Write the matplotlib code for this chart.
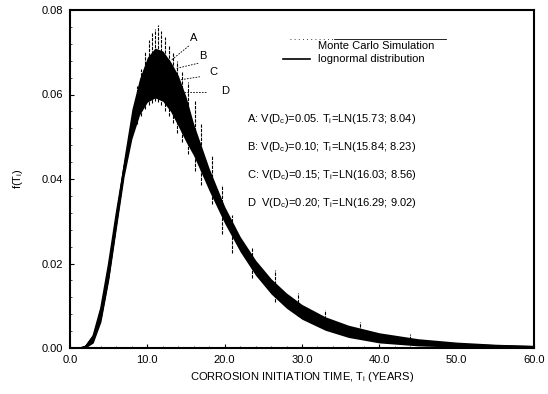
import matplotlib
matplotlib.use("Agg")
import matplotlib.pyplot as plt
from matplotlib.ticker import MultipleLocator, FormatStrFormatter

plt.rcParams['font.family'] = ['Liberation Sans', 'DejaVu Sans']
plt.rcParams['mathtext.fontset'] = 'custom'
plt.rcParams['mathtext.rm'] = 'Liberation Sans'
plt.rcParams['mathtext.it'] = 'Liberation Sans'

# ---- data ----
t_years = [1.5, 2, 3, 4, 5, 6, 7, 8, 9, 10, 11, 12, 13, 14, 15, 16, 18, 20,
           22, 24, 26, 28, 30, 33, 36, 40, 45, 50, 55, 60]

# lognormal fitted curves (A..D)
pdf_A = [0.00002, 0.00012, 0.0017, 0.0070, 0.0168, 0.0294, 0.0420, 0.0527, 0.0604, 0.0649,
         0.0664, 0.0656, 0.0629, 0.0592, 0.0547, 0.0498, 0.0402, 0.0315, 0.0242, 0.0185,
         0.0140, 0.0105, 0.0079, 0.0051, 0.0034, 0.0019, 0.0010, 0.0005, 0.0003, 0.0001]
pdf_B = [0.00003, 0.00015, 0.0019, 0.0075, 0.0174, 0.0299, 0.0422, 0.0525, 0.0598, 0.0641,
         0.0655, 0.0646, 0.0620, 0.0584, 0.0540, 0.0493, 0.0399, 0.0314, 0.0243, 0.0187,
         0.0142, 0.0107, 0.0081, 0.0053, 0.0036, 0.0020, 0.0011, 0.0006, 0.0003, 0.0002]
pdf_C = [0.00005, 0.0002, 0.0023, 0.0083, 0.0184, 0.0307, 0.0424, 0.0521, 0.0589, 0.0628,
         0.0640, 0.0630, 0.0605, 0.0570, 0.0528, 0.0483, 0.0394, 0.0313, 0.0245, 0.0190,
         0.0146, 0.0112, 0.0086, 0.0058, 0.0039, 0.0023, 0.0012, 0.0007, 0.0004, 0.0002]
pdf_D = [0.00008, 0.00029, 0.0028, 0.0094, 0.0198, 0.0318, 0.0428, 0.0516, 0.0577, 0.0610,
         0.0619, 0.0608, 0.0584, 0.0551, 0.0512, 0.0470, 0.0387, 0.0311, 0.0247, 0.0194,
         0.0151, 0.0118, 0.0091, 0.0063, 0.0043, 0.0026, 0.0015, 0.0008, 0.0005, 0.0003]

# Monte Carlo simulation scatter band (lower / upper envelope)
mc_low = [0.0, 0.0, 0.0012, 0.0062, 0.0160, 0.0284, 0.0406, 0.0495, 0.0552, 0.0582,
          0.0592, 0.0584, 0.0560, 0.0525, 0.0488, 0.0455, 0.0372, 0.0295, 0.0228, 0.0172,
          0.0128, 0.0094, 0.0068, 0.0042, 0.0025, 0.0012, 0.0005, 0.0002, 0.0, 0.0]
mc_high = [0.0003, 0.0008, 0.0034, 0.0102, 0.0206, 0.0328, 0.0452, 0.0565, 0.0638, 0.0688,
           0.0710, 0.0703, 0.0678, 0.0645, 0.0595, 0.0530, 0.0425, 0.0335, 0.0264, 0.0208,
           0.0164, 0.0130, 0.0103, 0.0074, 0.0054, 0.0036, 0.0022, 0.0014, 0.0009, 0.0006]

# individual Monte Carlo spikes
spike_t = [8.6, 9.2, 9.7, 10.2, 10.6, 11.0, 11.4, 11.8, 12.3, 12.8, 13.3, 13.9, 14.5,
           15.2, 16.1, 17.0, 18.3, 19.6, 21.0, 23.5, 26.5, 29.5, 33.0, 37.5, 44.0]
spike_top = [0.062, 0.066, 0.070, 0.073, 0.0745, 0.0755, 0.0765, 0.0750, 0.0735, 0.0715,
             0.0700, 0.0680, 0.0655, 0.0630, 0.0585, 0.0530, 0.0455, 0.0385, 0.0315, 0.0240,
             0.0185, 0.0130, 0.0090, 0.0062, 0.0032]
spike_bot = [0.0530, 0.0550, 0.0565, 0.0575, 0.0580, 0.0585, 0.0582, 0.0575, 0.0562, 0.0548,
             0.0532, 0.0510, 0.0488, 0.0460, 0.0420, 0.0385, 0.0340, 0.0270, 0.0225, 0.0165,
             0.0110, 0.0075, 0.0048, 0.0028, 0.0010]

labels = ['A', 'B', 'C', 'D']
label_pos = [(15.95, 0.0733), (17.2, 0.0690), (18.6, 0.0653), (20.0, 0.0608)]
leader_start = [(13.15, 0.0682), (13.8, 0.0662), (14.0, 0.0634), (14.4, 0.0607)]
leader_end = [(15.5, 0.0717), (16.6, 0.0674), (16.8, 0.0642), (17.7, 0.0607)]

case_text = [
    "A: V(D$_c$)=0.05. T$_i$=LN(15.73; 8.04)",
    "B: V(D$_c$)=0.10; T$_i$=LN(15.84; 8.23)",
    "C: V(D$_c$)=0.15; T$_i$=LN(16.03; 8.56)",
    "D  V(D$_c$)=0.20; T$_i$=LN(16.29; 9.02)",
]

# ---- figure ----
fig = plt.figure(figsize=(5.48, 3.94), dpi=100)
ax = fig.add_axes([70 / 548, 46 / 394, 464 / 548, 338 / 394])

ax.fill_between(t_years, mc_low, mc_high, color='black', linewidth=0)
ax.vlines(spike_t, spike_bot, spike_top, colors='black', linewidth=0.8,
          linestyles=(0, (3, 1)))
for pdf in (pdf_A, pdf_B, pdf_C, pdf_D):
    ax.plot(t_years, pdf, color='black', linewidth=1.2)

for lab, (lx, ly), (sx, sy), (ex, ey) in zip(labels, label_pos, leader_start, leader_end):
    ax.plot([sx, ex], [sy, ey], color='black', linewidth=0.6, linestyle=(0, (2, 1.5)))
    ax.text(lx, ly, lab, fontsize=8, ha='center', va='center')

for i, s in enumerate(case_text):
    ax.text(0.381, 0.6775 - i * 0.0825, s, transform=ax.transAxes, fontsize=8,
            ha='left', va='center')

# legend (manual)
ax.plot([0.475, 0.57], [0.915, 0.915], transform=ax.transAxes, color='black',
        linewidth=0.6, linestyle=(0, (1, 4)))
ax.plot([0.57, 0.81], [0.915, 0.915], transform=ax.transAxes, color='black',
        linewidth=0.6)
ax.text(0.534, 0.893, "Monte Carlo Simulation", transform=ax.transAxes, fontsize=8,
        ha='left', va='center')
ax.plot([0.459, 0.517], [0.854, 0.854], transform=ax.transAxes, color='black',
        linewidth=1.2)
ax.text(0.534, 0.854, "lognormal distribution", transform=ax.transAxes, fontsize=8,
        ha='left', va='center')

ax.set_xlim(0, 60)
ax.set_ylim(0, 0.08)
ax.xaxis.set_major_locator(MultipleLocator(10))
ax.xaxis.set_major_formatter(FormatStrFormatter('%.1f'))
ax.yaxis.set_major_locator(MultipleLocator(0.02))
ax.yaxis.set_major_formatter(FormatStrFormatter('%.2f'))
ax.xaxis.set_minor_locator(MultipleLocator(2))
ax.yaxis.set_minor_locator(MultipleLocator(0.004))
ax.tick_params(which='major', direction='in', length=3, width=0.8, labelsize=8, pad=5)
ax.tick_params(which='minor', direction='in', length=1.5, width=0.5)
ax.tick_params(top=False, right=False)
for sp in ax.spines.values():
    sp.set_linewidth(1.5)

ax.set_xlabel("CORROSION INITIATION TIME, T$_i$ (YEARS)", fontsize=8, labelpad=4)
ax.set_ylabel("f(T$_i$)", fontsize=8, labelpad=12)

fig.savefig("out.png", dpi=100)
